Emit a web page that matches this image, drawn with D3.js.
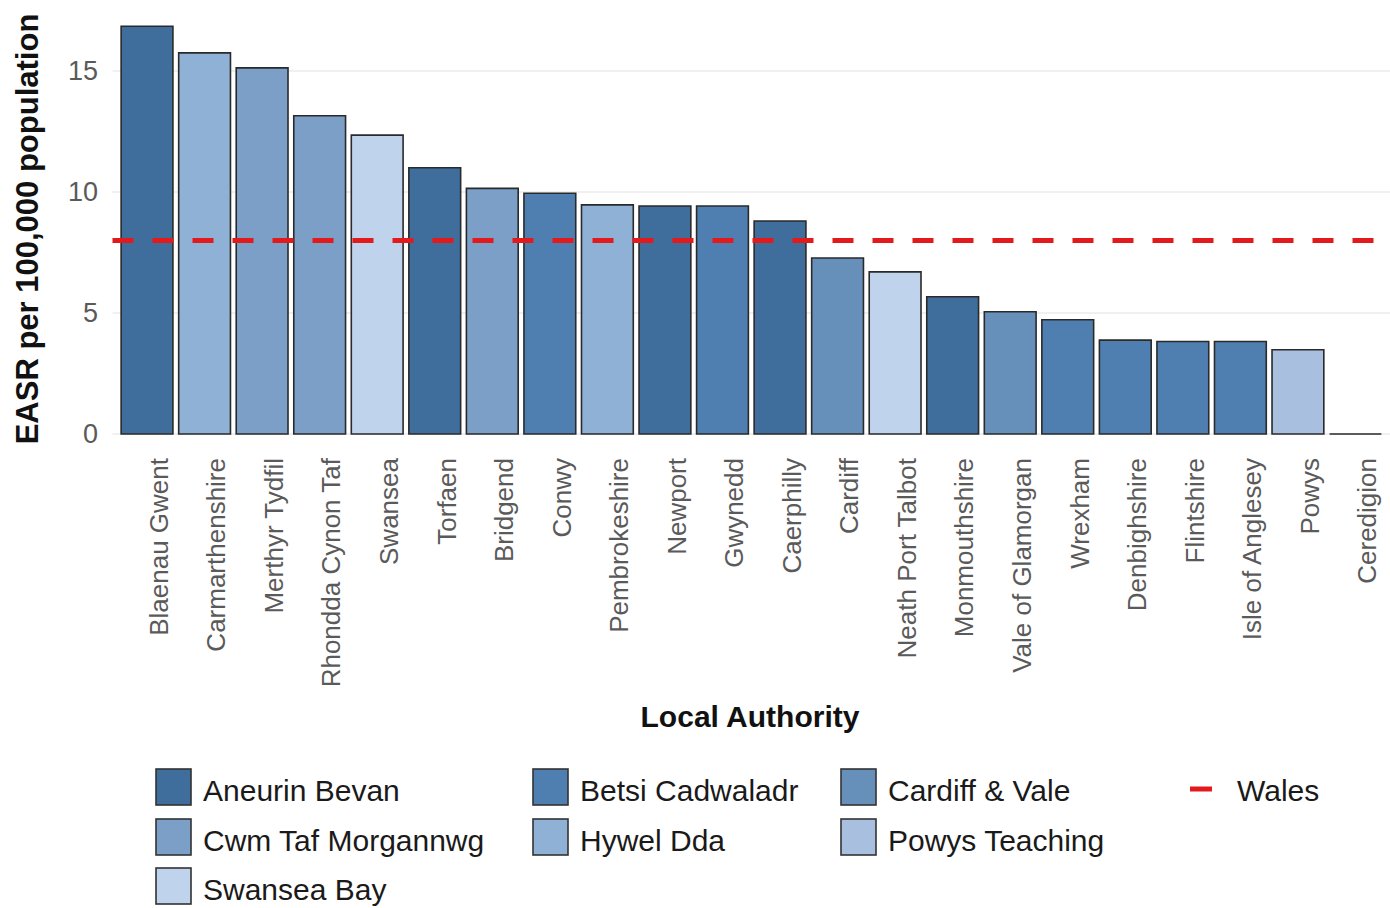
<!DOCTYPE html>
<html>
<head>
<meta charset="utf-8">
<script src="https://cdn.jsdelivr.net/npm/d3@7"></script>
<style>
  html, body { margin: 0; padding: 0; background: #fff; }
  svg { display: block; font-family: "Liberation Sans", Arial, sans-serif; }
</style>
</head>
<body>
<svg id="chart" width="1390" height="908"></svg>
<script>
// ---- data ----
const authorities = ["Blaenau Gwent","Carmarthenshire","Merthyr Tydfil","Rhondda Cynon Taf","Swansea","Torfaen","Bridgend","Conwy","Pembrokeshire","Newport","Gwynedd","Caerphilly","Cardiff","Neath Port Talbot","Monmouthshire","Vale of Glamorgan","Wrexham","Denbighshire","Flintshire","Isle of Anglesey","Powys","Ceredigion"];
const easr = [16.85,15.75,15.13,13.15,12.35,11.0,10.15,9.95,9.47,9.42,9.42,8.8,7.27,6.7,5.67,5.05,4.72,3.88,3.82,3.82,3.48,0];
const healthBoard = ["Aneurin Bevan","Hywel Dda","Cwm Taf Morgannwg","Cwm Taf Morgannwg","Swansea Bay","Aneurin Bevan","Cwm Taf Morgannwg","Betsi Cadwaladr","Hywel Dda","Aneurin Bevan","Betsi Cadwaladr","Aneurin Bevan","Cardiff & Vale","Swansea Bay","Aneurin Bevan","Cardiff & Vale","Betsi Cadwaladr","Betsi Cadwaladr","Betsi Cadwaladr","Betsi Cadwaladr","Powys Teaching","Hywel Dda"];
const boards = ["Aneurin Bevan","Betsi Cadwaladr","Cardiff & Vale","Cwm Taf Morgannwg","Hywel Dda","Powys Teaching","Swansea Bay"];
const boardColours = ["#3f6e9d","#4f7fb0","#6690b9","#7b9fc7","#8fb1d6","#a8bfe0","#bfd3ec"];
const walesRate = 8.0;
const yTicks = [0,5,10,15];

// ---- layout ----
const svg = d3.select("#chart");
const panel = {left: 112.5, right: 1390, top: 8, bottom: 454};
const x = d3.scaleBand().domain(authorities).range([panel.left, panel.right]).paddingInner(0.1).paddingOuter(0.15);
const y = d3.scaleLinear().domain([0, 17.6]).range([434, 434 - 17.6*24.2]);
const colour = d3.scaleOrdinal().domain(boards).range(boardColours);

// gridlines
svg.append("g").selectAll("line").data(yTicks).join("line")
  .attr("x1", panel.left).attr("x2", panel.right)
  .attr("y1", d => y(d)).attr("y2", d => y(d))
  .attr("stroke", "#ebebeb").attr("stroke-width", 1.5);

// bars (paths so zero-height bars still show an outline)
const rows = authorities.map((a, i) => ({name: a, value: easr[i], board: healthBoard[i]}));
svg.append("g").selectAll("path").data(rows).join("path")
  .attr("d", d => {
    const x0 = x(d.name), w = x.bandwidth(), y0 = y(0), y1 = y(d.value);
    return `M${x0},${y0}V${y1}H${x0 + w}V${y0}Z`;
  })
  .attr("fill", d => colour(d.board))
  .attr("stroke", "#2a2a2a").attr("stroke-width", 1.6);

// Wales line
svg.append("line")
  .attr("x1", panel.left).attr("x2", panel.right)
  .attr("y1", y(walesRate)).attr("y2", y(walesRate))
  .attr("stroke", "#e31a1c").attr("stroke-width", 5)
  .attr("stroke-dasharray", "21,19");

// y axis ticks
const yAxis = svg.append("g").attr("transform", "translate(98,0)")
  .call(d3.axisLeft(y).tickValues(yTicks).tickSize(0).tickPadding(0));
yAxis.select(".domain").remove();
yAxis.selectAll("text").attr("font-size", 27).attr("fill", "#5a5a5a")
  .attr("font-family", "'Liberation Sans', Arial, sans-serif");

// x axis labels
const xAxis = svg.append("g").attr("transform", "translate(0,458)")
  .call(d3.axisBottom(x).tickSize(0).tickPadding(0));
xAxis.select(".domain").remove();
xAxis.selectAll("text")
  .attr("font-size", 26).attr("fill", "#5a5a5a")
  .attr("font-family", "'Liberation Sans', Arial, sans-serif")
  .attr("transform", "rotate(-90)")
  .attr("text-anchor", "end")
  .attr("x", 0).attr("y", 0).attr("dy", "0.8em");

// axis titles
svg.append("text")
  .attr("transform", "translate(38,229) rotate(-90)")
  .attr("text-anchor", "middle")
  .attr("font-size", 31).attr("font-weight", "bold").attr("fill", "#111")
  .text("EASR per 100,000 population");
svg.append("text")
  .attr("x", 750).attr("y", 727)
  .attr("text-anchor", "middle")
  .attr("font-size", 30).attr("font-weight", "bold").attr("fill", "#111")
  .text("Local Authority");

// legend (fill)
const colX = [156, 533, 841];
const rowY = [769, 819, 868];
const legend = svg.append("g");
boards.forEach((b, i) => {
  const cx = colX[i % 3], ry = rowY[Math.floor(i / 3)];
  legend.append("rect").attr("x", cx).attr("y", ry).attr("width", 35).attr("height", 36)
    .attr("fill", colour(b)).attr("stroke", "#333").attr("stroke-width", 1.6);
  legend.append("text").attr("x", cx + 47).attr("y", ry + 32)
    .attr("font-size", 30).attr("fill", "#1a1a1a").text(b);
});
// legend (Wales)
legend.append("line").attr("x1", 1190).attr("x2", 1212).attr("y1", 789).attr("y2", 789)
  .attr("stroke", "#e31a1c").attr("stroke-width", 5);
legend.append("text").attr("x", 1237).attr("y", 801)
  .attr("font-size", 30).attr("fill", "#1a1a1a").text("Wales");
</script>
</body>
</html>
